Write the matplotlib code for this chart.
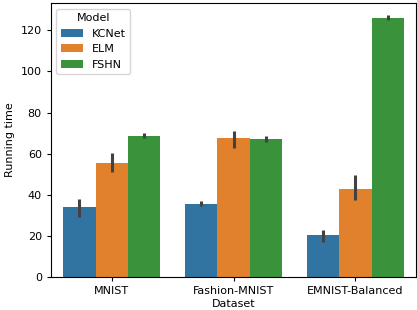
import matplotlib.pyplot as plt
import numpy as np

datasets = ["MNIST", "Fashion-MNIST", "EMNIST-Balanced"]
models = ["KCNet", "ELM", "FSHN"]
colors = ["#3274a1", "#e1812c", "#3a923a"]

# mean running time per dataset, one list per model
mean_time = {
    "KCNet": [33.9, 35.5, 20.3],
    "ELM": [55.7, 67.7, 42.8],
    "FSHN": [68.8, 67.2, 126.2],
}
# confidence interval bounds (low, high)
ci_low = {
    "KCNet": [29.3, 34.6, 17.1],
    "ELM": [51.2, 62.8, 37.3],
    "FSHN": [67.4, 65.7, 125.2],
}
ci_high = {
    "KCNet": [37.9, 36.9, 22.8],
    "ELM": [60.1, 71.1, 49.7],
    "FSHN": [70.0, 68.8, 127.5],
}

plt.rcParams["font.size"] = 8
plt.rcParams["axes.linewidth"] = 0.8

fig = plt.figure(figsize=(4.17, 3.10), dpi=100)
ax = fig.add_axes([0.122, 0.106, 0.876, 0.884])

x = np.arange(len(datasets))
w = 0.8 / len(models)
for i, (m, c) in enumerate(zip(models, colors)):
    pos = x - 0.4 + w * (i + 0.5)
    ax.bar(pos, mean_time[m], width=w, color=c, label=m)
    ax.vlines(pos, ci_low[m], ci_high[m], color="#424242", linewidth=2.2, zorder=3)

ax.set_xticks(x)
ax.set_xticklabels(datasets)
ax.set_xlim(-0.5, 2.5)
ax.set_ylim(0, 133.2)
ax.tick_params(length=3, width=0.8)
ax.set_xlabel("Dataset", labelpad=2)
ax.set_ylabel("Running time")
ax.legend(title="Model", loc="upper left", fontsize=8, title_fontsize=8)

fig.savefig("out.png", dpi=100)
